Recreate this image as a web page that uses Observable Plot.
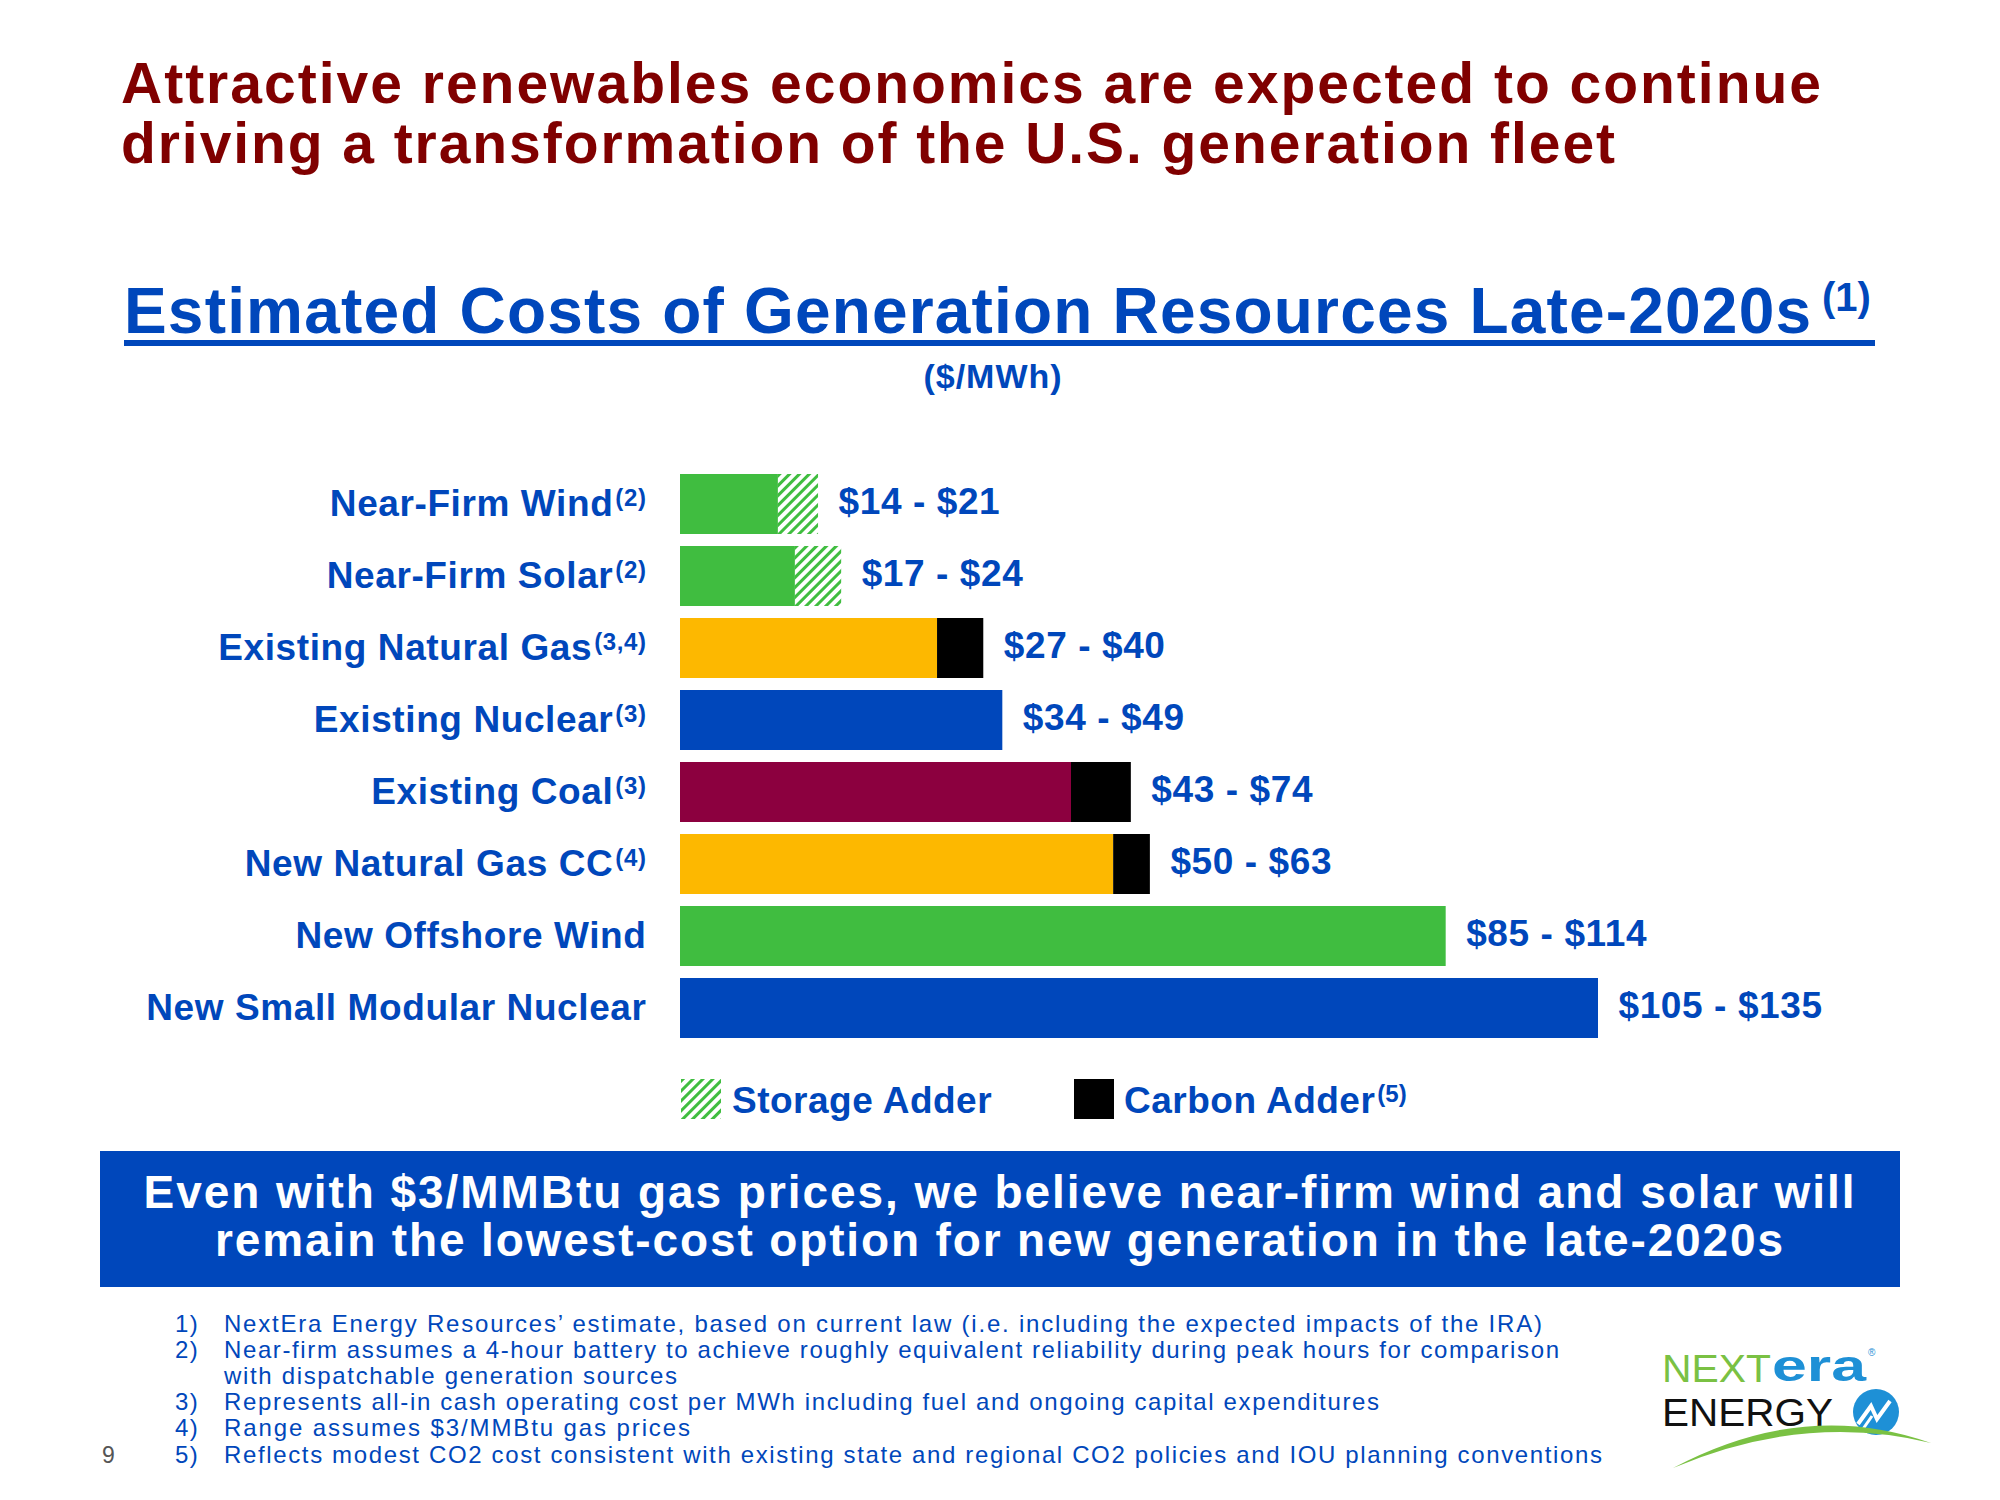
<!DOCTYPE html>
<html>
<head>
<meta charset="utf-8">
<script src="https://cdn.jsdelivr.net/npm/d3@7"></script>
<script src="https://cdn.jsdelivr.net/npm/@observablehq/plot@0.6"></script>
<style>
  body { margin: 0; background: #fff; }
  #page { position: relative; width: 2000px; height: 1500px; overflow: hidden; background: #fff;
          font-family: "Liberation Sans", Arial, sans-serif; }
  .abs { position: absolute; white-space: nowrap; }
</style>
</head>
<body>
<svg width="0" height="0" style="position:absolute">
  <defs>
    <pattern id="hatch" patternUnits="userSpaceOnUse" width="7" height="7" patternTransform="rotate(45)">
      <rect width="7" height="7" fill="#ffffff"></rect>
      <rect width="3" height="7" fill="#40BD40"></rect>
    </pattern>
  </defs>
</svg>
<div id="page"></div>
<script>
// ---------------- DATA ----------------
const categories = ["Near-Firm Wind", "Near-Firm Solar", "Existing Natural Gas", "Existing Nuclear",
                    "Existing Coal", "New Natural Gas CC", "New Offshore Wind", "New Small Modular Nuclear"];
const noteMarks = ["(2)", "(2)", "(3,4)", "(3)", "(3)", "(4)", "", ""];
// bar segment lengths as drawn in the picture ($/MWh)
const baseCost  = [14.4, 16.9, 37.8, 47.4, 57.5, 63.7, 112.6, 135];
const adderCost = [5.9, 6.8, 6.8, 0, 8.8, 5.4, 0, 0];
const adderType = ["Storage", "Storage", "Carbon", "", "Carbon", "Carbon", "", ""];
const baseColor = ["#40BD40", "#40BD40", "#FDB800", "#0047BB", "#8C003F", "#FDB800", "#40BD40", "#0047BB"];
// printed cost ranges
const rangeLow  = [14, 17, 27, 34, 43, 50, 85, 105];
const rangeHigh = [21, 24, 40, 49, 74, 63, 114, 135];
const adderFill = { Storage: "url(#hatch)", Carbon: "#000000" };

const footnotes = [
  ["1)", "NextEra Energy Resources’ estimate, based on current law (i.e. including the expected impacts of the IRA)"],
  ["2)", "Near-firm assumes a 4-hour battery to achieve roughly equivalent reliability during peak hours for comparison"],
  ["",   "with dispatchable generation sources"],
  ["3)", "Represents all-in cash operating cost per MWh including fuel and ongoing capital expenditures"],
  ["4)", "Range assumes $3/MMBtu gas prices"],
  ["5)", "Reflects modest CO2 cost consistent with existing state and regional CO2 policies and IOU planning conventions"]
];

const BLUE = "#0047BB";
const page = document.getElementById("page");

function addText(txt, o) {
  const el = document.createElement("div");
  el.className = "abs";
  const size = o.size;
  el.style.fontSize = size + "px";
  el.style.lineHeight = size + "px";
  el.style.fontWeight = o.weight || "bold";
  el.style.color = o.color || BLUE;
  el.style.letterSpacing = (o.ls || 0) + "px";
  el.textContent = txt;
  page.appendChild(el);
  el.style.top = (o.baseline - 0.8465 * size) + "px";
  if (o.target) {
    const w0 = el.getBoundingClientRect().width;
    const n = [...txt].length;
    el.style.letterSpacing = ((o.target - w0) / Math.max(1, n - 1)) + "px";
  }
  const w = el.getBoundingClientRect().width;
  const a = o.anchor || "start";
  el.style.left = (a === "middle" ? o.x - w / 2 : a === "end" ? o.x - w : o.x) + "px";
  return el;
}

// ---------------- HEADINGS ----------------
addText("Attractive renewables economics are expected to continue", {x: 121, baseline: 103, size: 57, color: "#800000", target: 1700});
addText("driving a transformation of the U.S. generation fleet", {x: 121, baseline: 163, size: 57, color: "#800000", target: 1494});
addText("Estimated Costs of Generation Resources Late-2020s", {x: 124, baseline: 333, size: 64, target: 1687});
addText("(1)", {x: 1822, baseline: 311, size: 40});
const ul = document.createElement("div");
ul.className = "abs";
Object.assign(ul.style, {left: "124px", top: "340px", width: "1751px", height: "6px", background: BLUE});
page.appendChild(ul);
addText("($/MWh)", {x: 993, baseline: 388, size: 34, anchor: "middle", ls: 1});

// ---------------- CHART ----------------
const segs = [];
categories.forEach((c, i) => {
  segs.push({cat: c, x1: 0, x2: baseCost[i], fill: baseColor[i]});
  if (adderCost[i] > 0) segs.push({cat: c, x1: baseCost[i], x2: baseCost[i] + adderCost[i], fill: adderFill[adderType[i]]});
});
const labels = categories.map((c, i) => ({cat: c, x: baseCost[i] + adderCost[i], text: `$${rangeLow[i]} - $${rangeHigh[i]}`}));
const xMax = d3.max(categories, (c, i) => baseCost[i] + adderCost[i]);

const chart = Plot.plot({
  width: 2000,
  height: 660,
  marginLeft: 680,
  marginRight: 402,
  marginTop: 40,
  marginBottom: 29,
  style: {fontFamily: "'Liberation Sans', Arial, sans-serif", fontSize: "37px", fontWeight: "bold",
          color: BLUE, background: "transparent", letterSpacing: "0.6px"},
  x: {domain: [0, xMax], axis: null},
  y: {domain: categories, padding: 0.171, label: null, tickSize: 0, tickPadding: 34},
  color: {type: "identity"},
  marks: [
    Plot.barX(segs, {x1: "x1", x2: "x2", y: "cat", fill: "fill"}),
    Plot.text(labels, {x: "x", y: "cat", text: "text", dx: 20, dy: -2, textAnchor: "start", fill: BLUE,
                       fontSize: 37, fontWeight: "bold"})
  ]
});
chart.style.position = "absolute";
chart.style.left = "0px";
chart.style.top = "420px";
page.appendChild(chart);

// superscript note marks on the category labels
chart.querySelectorAll('g[aria-label="y-axis tick label"] text').forEach(t => {
  const i = categories.indexOf(t.textContent);
  if (i >= 0 && noteMarks[i]) {
    const ts = document.createElementNS("http://www.w3.org/2000/svg", "tspan");
    ts.setAttribute("font-size", "24");
    ts.setAttribute("dy", "-10");
    ts.setAttribute("dx", "2");
    ts.textContent = noteMarks[i];
    t.appendChild(ts);
  }
});

// ---------------- LEGEND ----------------
function swatch(x, fill) {
  const s = document.createElementNS("http://www.w3.org/2000/svg", "svg");
  s.setAttribute("width", 40); s.setAttribute("height", 40);
  s.style.position = "absolute"; s.style.left = x + "px"; s.style.top = "1079px";
  const r = document.createElementNS("http://www.w3.org/2000/svg", "rect");
  r.setAttribute("width", 40); r.setAttribute("height", 40); r.setAttribute("fill", fill);
  s.appendChild(r);
  page.appendChild(s);
}
swatch(681, adderFill.Storage);
addText("Storage Adder", {x: 732, baseline: 1113, size: 37, ls: 0.5});
swatch(1074, adderFill.Carbon);
const carb = addText("Carbon Adder", {x: 1124, baseline: 1113, size: 37, ls: 0.5});
const carbRight = carb.getBoundingClientRect().right - page.getBoundingClientRect().left;
addText("(5)", {x: carbRight + 2, baseline: 1102, size: 24, ls: 0});

// ---------------- MESSAGE BOX ----------------
const box = document.createElement("div");
box.className = "abs";
Object.assign(box.style, {left: "100px", top: "1151px", width: "1800px", height: "136px", background: BLUE});
page.appendChild(box);
addText("Even with $3/MMBtu gas prices, we believe near-firm wind and solar will", {x: 1000, baseline: 1208, size: 46, color: "#fff", anchor: "middle", target: 1711});
addText("remain the lowest-cost option for new generation in the late-2020s", {x: 1000, baseline: 1256, size: 46, color: "#fff", anchor: "middle", target: 1568});

// ---------------- FOOTNOTES ----------------
const fnTargets = [1318, 1335, 453, 1155, 466, 1378];
footnotes.forEach(([n, t], k) => {
  const b = 1332 + k * 26.2;
  if (n) addText(n, {x: 175, baseline: b, size: 24, weight: "normal", ls: 1.5});
  addText(t, {x: 224, baseline: b, size: 24, weight: "normal", target: fnTargets[k]});
});
addText("9", {x: 102, baseline: 1463, size: 23, weight: "normal", color: "#555"});

// ---------------- LOGO ----------------
const logo = document.createElementNS("http://www.w3.org/2000/svg", "svg");
logo.setAttribute("width", 340); logo.setAttribute("height", 170);
logo.style.position = "absolute"; logo.style.left = "1620px"; logo.style.top = "1320px";
logo.innerHTML = `
  <g font-family="'Liberation Sans', Arial, sans-serif">
    <text x="42" y="62" font-size="39" fill="#7AC143" textLength="109" lengthAdjust="spacingAndGlyphs">NEXT</text>
    <text x="152" y="61" font-size="44" font-weight="bold" fill="#1E90D6" textLength="94" lengthAdjust="spacingAndGlyphs">era</text>
    <text x="248" y="36" font-size="10" fill="#1E90D6">®</text>
    <text x="42" y="106" font-size="39" fill="#111" textLength="171" lengthAdjust="spacingAndGlyphs">ENERGY</text>
    <circle cx="256" cy="92" r="23" fill="#1E90D6"></circle>
    <polyline points="238,104 251,86 257,99 270,81" fill="none" stroke="#fff" stroke-width="4"></polyline>
    <polyline points="243,109 252,96" fill="none" stroke="#fff" stroke-width="3"></polyline>
    <path d="M53,148 Q185,78 311,123 Q185,92 53,148 Z" fill="#7AC143"></path>
  </g>`;
page.appendChild(logo);
</script>
</body>
</html>
